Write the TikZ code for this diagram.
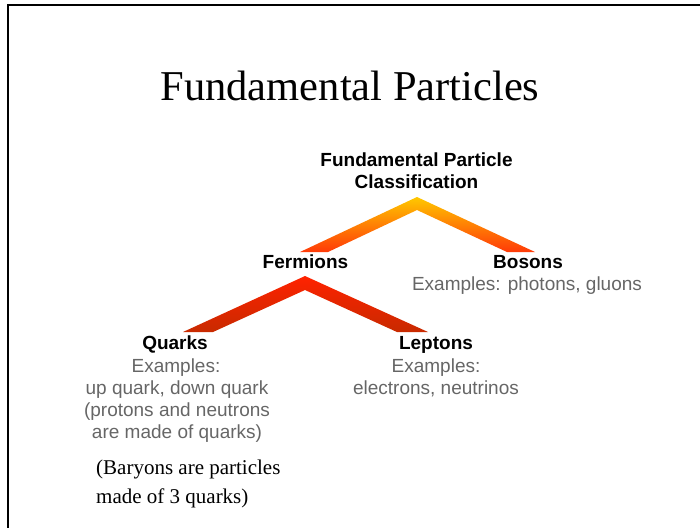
\documentclass[tikz,border=0pt]{standalone}
\usepackage{fontspec}
\setmainfont{Liberation Serif}
\newfontfamily\hv{Liberation Sans}
\definecolor{exgray}{HTML}{666666}
\definecolor{gold}{HTML}{FFC800}
\definecolor{orred}{HTML}{FF3A08}
\definecolor{redtop}{HTML}{FF2200}
\definecolor{redend}{HTML}{C82A00}
\tikzset{
  lbl/.style={inner sep=0pt, anchor=base, font=\hv\bfseries\fontsize{19}{22}\selectfont, text=black},
  ex/.style={inner sep=0pt, anchor=base, font=\hv\fontsize{19}{22}\selectfont, text=exgray},
  note/.style={inner sep=0pt, anchor=base west, font=\fontsize{21}{29}\selectfont, text=black},
  frame/.style={line width=2pt, black}
}
\begin{document}
\begin{tikzpicture}[x=1pt,y=-1pt]
\useasboundingbox (0,0) rectangle (700,528);
% frame
\coordinate (fr1) at (700,4.5);
\coordinate (fr2) at (7.5,4.5);
\coordinate (fr3) at (7.5,528);
\draw[frame] (fr1) -- (fr2) -- (fr3);
% title
\node[inner sep=0pt, anchor=base, font=\fontsize{42.5}{50}\selectfont] (title) at (350,100) {Fundamental Particles};
% top
\node[lbl] (top1) at (416.5,166) {Fundamental Particle};
\node[lbl] (top2) at (416.5,188) {Classification};
% chevron 1
\coordinate (c1apex) at (417,197);
\coordinate (c1in) at (417,210);
\coordinate (c1lo) at (300,252);
\coordinate (c1li) at (328,252);
\coordinate (c1ro) at (535,252);
\coordinate (c1ri) at (507,252);
\shade[top color=gold, bottom color=orred] (c1lo) -- (c1apex) -- (c1ro) -- (c1ri) -- (c1in) -- (c1li) -- cycle;
% second level
\node[lbl] (fermions) at (305.5,268) {Fermions};
\node[lbl] (bosons) at (528,268) {Bosons};
\node[ex] (bosonsex) at (527,290) {Examples: photons, gluons};
% chevron 2
\coordinate (c2apex) at (305,276);
\coordinate (c2in) at (305,290);
\coordinate (c2lo) at (183,332);
\coordinate (c2li) at (213,332);
\coordinate (c2ro) at (428,332);
\coordinate (c2ri) at (397,332);
\shade[top color=redtop, bottom color=redend] (c2lo) -- (c2apex) -- (c2ro) -- (c2ri) -- (c2in) -- (c2li) -- cycle;
% quarks
\node[lbl] (quarks) at (175,349) {Quarks};
\node[ex] (qex1) at (176,372) {Examples:};
\node[ex] (qex2) at (177,394) {up quark, down quark};
\node[ex] (qex3) at (177,416) {(protons and neutrons};
\node[ex] (qex4) at (177,438) {are made of quarks)};
% leptons
\node[lbl] (leptons) at (436,349) {Leptons};
\node[ex] (lex1) at (436,372) {Examples:};
\node[ex] (lex2) at (436,394) {electrons, neutrinos};
% note
\node[note] (note1) at (96,474) {(Baryons are particles};
\node[note] (note2) at (96,503) {made of 3 quarks)};
\end{tikzpicture}
\end{document}
